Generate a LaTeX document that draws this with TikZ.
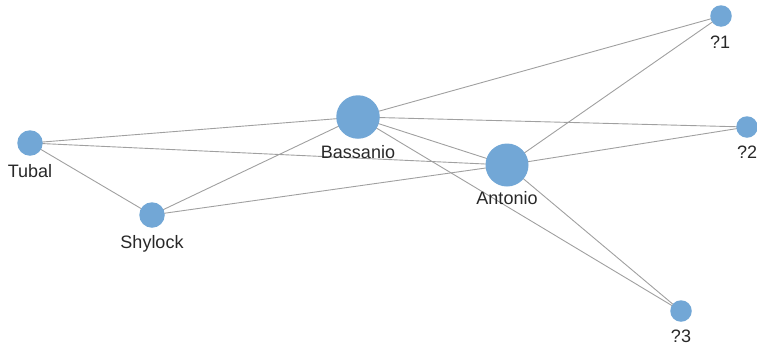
\documentclass[tikz,border=0pt]{standalone}
\usepackage{fontspec}
\setmainfont{Liberation Sans}
\definecolor{nodeblue}{RGB}{114,167,214}
\definecolor{edgegrey}{RGB}{160,160,160}
\definecolor{labelgrey}{RGB}{40,40,40}
\begin{document}
\begin{tikzpicture}[x=1pt,y=-1pt,
  person/.style={circle,fill=nodeblue,inner sep=0pt,minimum size=#1},
  person/.default=21pt,
  link/.style={draw=edgegrey,line width=0.9pt},
  lab/.style={anchor=base,text=labelgrey,font=\fontsize{18}{20}\selectfont,inner sep=0pt}]
\clip (0,0) rectangle (757,346);
\useasboundingbox (0,0) rectangle (757,346);
% nodes (coordinates)
\coordinate (cB) at (358,117);
\coordinate (cA) at (507,165);
\coordinate (cT) at (30,143);
\coordinate (cS) at (152,215);
\coordinate (c1) at (721,16);
\coordinate (c2) at (747,127);
\coordinate (c3) at (681,311);
% edges
\draw[link] (cT) -- (cB);
\draw[link] (cT) -- (cA);
\draw[link] (cT) -- (cS);
\draw[link] (cS) -- (cB);
\draw[link] (cS) -- (cA);
\draw[link] (cB) -- (c1);
\draw[link] (cB) -- (c2);
\draw[link] (cB) -- (cA);
\draw[link] (cB) -- (c3);
\draw[link] (cA) -- (c1);
\draw[link] (cA) -- (c2);
\draw[link] (cA) -- (c3);
% circles
\node[person=43.5pt] (B) at (cB) {};
\node[person=43pt] (A) at (cA) {};
\node[person=25.5pt] (T) at (cT) {};
\node[person=25.5pt] (S) at (cS) {};
\node[person=21.5pt] (Q1) at (c1) {};
\node[person=21.5pt] (Q2) at (c2) {};
\node[person=21.5pt] (Q3) at (c3) {};
% labels
\node[lab] (lB) at (358,158) {Bassanio};
\node[lab] (lA) at (507,204) {Antonio};
\node[lab] (lT) at (30,177) {Tubal};
\node[lab] (lS) at (152,248) {Shylock};
\node[lab] (l1) at (720,48) {?1};
\node[lab] (l2) at (747,158) {?2};
\node[lab] (l3) at (681,342) {?3};
\end{tikzpicture}
\end{document}
